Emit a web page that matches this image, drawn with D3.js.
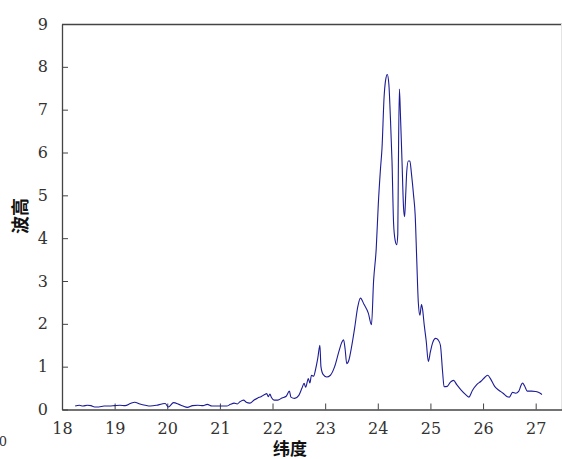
<!DOCTYPE html>
<html>
<head>
<meta charset="utf-8">
<script src="https://cdn.jsdelivr.net/npm/d3@7"></script>
<style>
  body { margin: 0; background: #fff; }
  svg { display: block; }
</style>
</head>
<body>
<div id="chart"></div>
<script>
// latitude (x) and wave height (y)
var latitude = [
  18.25, 18.33, 18.40, 18.48, 18.55, 18.62, 18.70, 18.80, 18.90, 19.00,
  19.10, 19.20, 19.30, 19.38, 19.48, 19.58, 19.68, 19.80, 19.90, 19.96,
  20.02, 20.12, 20.22, 20.30, 20.38, 20.48, 20.58, 20.68, 20.76, 20.85,
  20.95, 21.05, 21.13, 21.20, 21.27, 21.33, 21.38, 21.45, 21.50, 21.57,
  21.65, 21.72, 21.78, 21.85, 21.89, 21.92, 21.95, 21.98, 22.03, 22.10,
  22.18, 22.26, 22.32, 22.35, 22.42, 22.50, 22.56, 22.60, 22.63, 22.68,
  22.71, 22.74, 22.78, 22.82, 22.86, 22.90, 22.92, 22.96, 23.03, 23.10,
  23.18, 23.26, 23.31, 23.35, 23.38, 23.41, 23.45, 23.50, 23.56, 23.62,
  23.67, 23.74, 23.82, 23.88, 23.92, 23.97, 24.01, 24.05, 24.08, 24.12,
  24.15, 24.18, 24.21, 24.24, 24.27, 24.30, 24.33, 24.36, 24.38, 24.39,
  24.41, 24.43, 24.46, 24.49, 24.51, 24.53, 24.55, 24.58, 24.61, 24.64,
  24.68, 24.71, 24.74, 24.77, 24.80, 24.83, 24.85, 24.88, 24.92, 24.96,
  25.00, 25.04, 25.10, 25.15, 25.19, 25.23, 25.26, 25.32, 25.38, 25.44,
  25.50, 25.58, 25.66, 25.73, 25.80, 25.88, 25.96, 26.04, 26.09, 26.14,
  26.22, 26.30, 26.38, 26.46, 26.50, 26.56, 26.62, 26.68, 26.72, 26.75,
  26.79, 26.84, 26.92, 27.00, 27.05, 27.12
];
var waveHeight = [
  0.08, 0.10, 0.08, 0.10, 0.09, 0.06, 0.06, 0.08, 0.08, 0.09,
  0.10, 0.09, 0.14, 0.17, 0.13, 0.10, 0.08, 0.10, 0.13, 0.14,
  0.06, 0.16, 0.12, 0.08, 0.05, 0.09, 0.10, 0.09, 0.12, 0.08,
  0.08, 0.08, 0.08, 0.12, 0.15, 0.13, 0.18, 0.22, 0.17, 0.15,
  0.22, 0.27, 0.30, 0.35, 0.37, 0.30, 0.36, 0.28, 0.22, 0.22,
  0.27, 0.31, 0.43, 0.29, 0.26, 0.33, 0.50, 0.61, 0.52, 0.72,
  0.62, 0.80, 0.78, 0.95, 1.20, 1.50, 1.00, 0.82, 0.76, 0.80,
  1.00, 1.35, 1.55, 1.63, 1.40, 1.07, 1.15, 1.45, 1.90, 2.40,
  2.60, 2.45, 2.25, 1.98, 3.00, 3.75, 4.80, 5.60, 6.10, 7.30,
  7.70, 7.82, 7.60, 6.80, 5.80, 4.35, 3.95, 3.85, 4.10, 5.50,
  7.48, 6.90, 5.80, 4.70, 4.50, 5.00, 5.55, 5.80, 5.80, 5.50,
  5.00, 4.55, 3.50, 2.50, 2.20, 2.45, 2.35, 2.00, 1.60, 1.12,
  1.35, 1.55, 1.66, 1.62, 1.50, 0.90, 0.53, 0.54, 0.64, 0.68,
  0.58, 0.46, 0.36, 0.29, 0.45, 0.58, 0.66, 0.76, 0.80, 0.72,
  0.54, 0.45, 0.38, 0.30, 0.29, 0.40, 0.38, 0.43, 0.56, 0.62,
  0.55, 0.43, 0.43, 0.42, 0.40, 0.35
];
var xTicks = [18, 19, 20, 21, 22, 23, 24, 25, 26, 27];
var yTicks = [0, 1, 2, 3, 4, 5, 6, 7, 8, 9];

(function() {
    var width = 562, height = 459;
    var plotLeft = 62, plotTop = 24, plotBottom = 409.5, plotRight = 562;
    var tickFont = "'DejaVu Serif', 'Liberation Serif', serif";
    var cjkFont = "'Noto Sans CJK SC', sans-serif";

    var svg = d3.select('#chart')
        .append('svg')
        .attr('width', width)
        .attr('height', height);

    var x = d3.scaleLinear()
        .domain([18, 27.5])
        .range([plotLeft, plotRight]);

    var y = d3.scaleLinear()
        .domain([0, 9])
        .range([plotBottom, plotTop]);

    // frame: top line and faint right edge
    svg.append('line')
        .attr('x1', plotLeft).attr('x2', plotRight)
        .attr('y1', plotTop + 0.5).attr('y2', plotTop + 0.5)
        .attr('stroke', '#444').attr('stroke-width', 1.3);
    svg.append('line')
        .attr('x1', plotRight - 0.5).attr('x2', plotRight - 0.5)
        .attr('y1', plotTop).attr('y2', plotBottom)
        .attr('stroke', '#e4e4e4');

    // x axis, ticks pointing inward
    var xAxis = svg.append('g')
        .attr('transform', `translate(0, ${plotBottom})`)
        .call(d3.axisBottom(x).tickValues(xTicks).tickSizeInner(-6).tickSizeOuter(0).tickPadding(13));

    // y axis, ticks pointing inward
    var yAxis = svg.append('g')
        .attr('transform', `translate(${plotLeft}, 0)`)
        .call(d3.axisLeft(y).tickValues(yTicks).tickSizeInner(-6).tickSizeOuter(0).tickPadding(14));

    [xAxis, yAxis].forEach(function(g) {
        g.select('.domain').attr('stroke', '#444').attr('stroke-width', 1.3);
        g.selectAll('.tick line').attr('stroke', '#444');
        g.selectAll('.tick text')
            .attr('fill', '#333')
            .attr('font-family', tickFont)
            .attr('font-size', '16px');
    });

    // the wave height line
    var points = latitude.map((d, i) => [d, waveHeight[i]]);
    svg.append('path')
        .datum(points)
        .attr('fill', 'none')
        .attr('stroke', '#1c1c96')
        .attr('stroke-width', 1.1)
        .attr('stroke-linejoin', 'round')
        .attr('d', d3.line().curve(d3.curveMonotoneX).x(d => x(d[0])).y(d => y(d[1])));

    // axis titles
    svg.append('text')
        .attr('x', 290)
        .attr('y', 455)
        .attr('text-anchor', 'middle')
        .attr('font-family', cjkFont)
        .attr('font-weight', 'bold')
        .attr('font-size', '17px')
        .attr('fill', '#111')
        .text('纬度');

    svg.append('text')
        .attr('transform', 'translate(27, 216) rotate(-90)')
        .attr('text-anchor', 'middle')
        .attr('font-family', cjkFont)
        .attr('font-weight', 'bold')
        .attr('font-size', '18px')
        .attr('fill', '#111')
        .text('波高');

    // clipped leftover label at the bottom left corner
    svg.append('text')
        .attr('x', 7)
        .attr('y', 446)
        .attr('text-anchor', 'end')
        .attr('font-family', tickFont)
        .attr('font-size', '13px')
        .attr('fill', '#333')
        .text('00');
})();
</script>
</body>
</html>
